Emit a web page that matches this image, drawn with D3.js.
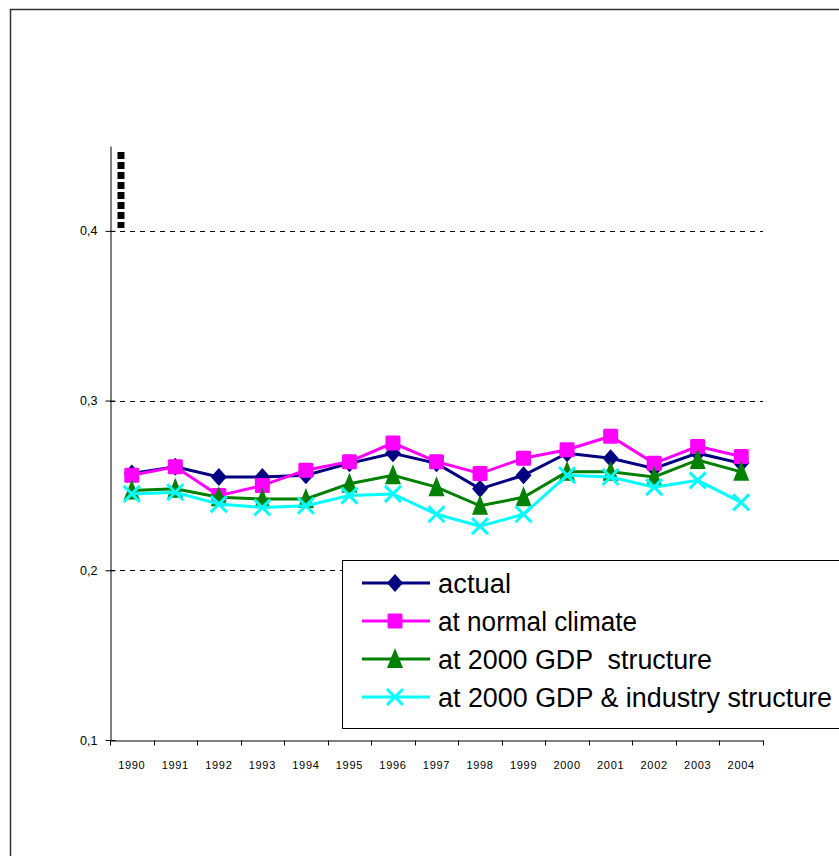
<!DOCTYPE html>
<meta charset="utf-8">
<style>
body { margin: 0; background: #fff; }
svg { display: block; font-family: "Liberation Sans", Arial, sans-serif; }
.axis path, .axis line { stroke: #000; }
.grid { stroke: #000; stroke-dasharray: 5,5; }
.legend text { font-size: 27px; white-space: pre; }
</style>
<svg width="839" height="856"></svg>
<script src="https://cdn.jsdelivr.net/npm/d3@7"></script>
<script>

// data
var years = ["1990","1991","1992","1993","1994","1995","1996","1997","1998","1999","2000","2001","2002","2003","2004"];
var actual =     [0.257, 0.261, 0.255, 0.255, 0.256, 0.263, 0.269, 0.263, 0.248, 0.256, 0.269, 0.266, 0.260, 0.269, 0.263];
var normalClim = [0.256, 0.261, 0.244, 0.250, 0.259, 0.264, 0.275, 0.264, 0.257, 0.266, 0.271, 0.279, 0.263, 0.273, 0.267];
var gdpStruct =  [0.247, 0.248, 0.243, 0.242, 0.242, 0.251, 0.256, 0.249, 0.238, 0.243, 0.258, 0.258, 0.255, 0.265, 0.258];
var gdpInd =     [0.245, 0.246, 0.239, 0.237, 0.238, 0.244, 0.245, 0.233, 0.226, 0.233, 0.256, 0.255, 0.249, 0.253, 0.240];
var yTicks = [0.1, 0.2, 0.3, 0.4];
var gridTicks = [0.2, 0.3, 0.4];

var series = [
  {name: "actual", values: actual, color: "#000080", marker: "diamond"},
  {name: "at normal climate", values: normalClim, color: "#ff00ff", marker: "square"},
  {name: "at 2000 GDP  structure", values: gdpStruct, color: "#008000", marker: "triangle"},
  {name: "at 2000 GDP & industry structure", values: gdpInd, color: "#00ffff", marker: "cross"}
];

var svg = d3.select("svg");

// outer chart frame
svg.append("rect")
    .attr("x", 10.5).attr("y", 9.5)
    .attr("width", 900).attr("height", 900)
    .attr("fill", "none")
    .attr("stroke", "#333")
    .attr("stroke-width", 1.5);

var x = d3.scaleBand().domain(years).range([110, 763]);
var y = d3.scaleLinear().domain([0.1, 0.45]).range([740, 146]);

// gridlines
svg.append("g").selectAll("line")
    .data(gridTicks)
  .enter().append("line")
    .attr("class", "grid")
    .attr("x1", 110).attr("x2", 763)
    .attr("y1", function(d) { return Math.round(y(d)) + 0.5; })
    .attr("y2", function(d) { return Math.round(y(d)) + 0.5; });

// y axis
var yAxis = svg.append("g")
    .attr("class", "axis")
    .attr("transform", "translate(110.5,0)")
    .call(d3.axisLeft(y)
      .tickValues(yTicks)
      .tickSize(5)
      .tickSizeOuter(0)
      .tickPadding(8)
      .tickFormat(function(d) { return d3.format(".1f")(d).replace(".", ","); }));
yAxis.attr("font-family", null);
yAxis.selectAll(".tick line").attr("x1", 5);
yAxis.selectAll(".tick text").style("font-size", "12.5px").attr("fill", "#000");

// x axis (labels in the band centres, ticks at band edges)
var xAxis = svg.append("g")
    .attr("class", "axis")
    .attr("transform", "translate(0,740.5)")
    .call(d3.axisBottom(x).tickSize(0).tickSizeOuter(0));
xAxis.attr("font-family", null);
xAxis.selectAll(".tick text")
    .attr("dy", 0).attr("y", 28)
    .style("font-size", "11px")
    .style("letter-spacing", "0.7px")
    .attr("fill", "#000");
xAxis.selectAll("line.edge")
    .data(d3.range(years.length + 1))
  .enter().append("line")
    .attr("class", "edge")
    .attr("x1", function(i) { return Math.round(x.range()[0] + i * x.step()) + 0.5; })
    .attr("x2", function(i) { return Math.round(x.range()[0] + i * x.step()) + 0.5; })
    .attr("y1", 0).attr("y2", 5)
    .attr("stroke", "#000");

// stray marker artefact near the top of the axis
svg.append("line")
    .attr("x1", 121).attr("x2", 121)
    .attr("y1", 152).attr("y2", 228)
    .attr("stroke", "#000")
    .attr("stroke-width", 7)
    .attr("stroke-dasharray", "7,3");

function drawMarker(g, type, color) {
  if (type == "diamond") {
    g.append("path").attr("d", "M0,-9L8,0L0,9L-8,0Z").attr("fill", color);
  } else if (type == "square") {
    g.append("rect").attr("x", -7.5).attr("y", -7.5).attr("width", 15).attr("height", 15).attr("rx", 1.5).attr("fill", color);
  } else if (type == "triangle") {
    g.append("path").attr("d", "M0,-11L8,9L-8,9Z").attr("fill", color);
  } else {
    g.append("path").attr("d", "M-8,-8L8,8M8,-8L-8,8").attr("stroke", color).attr("stroke-width", 3).attr("fill", "none");
  }
}

var line = d3.line()
    .x(function(d, i) { return x(years[i]) + x.bandwidth() / 2; })
    .y(function(d) { return y(d); });

series.forEach(function(s) {
  var g = svg.append("g");
  g.append("path")
      .datum(s.values)
      .attr("fill", "none")
      .attr("stroke", s.color)
      .attr("stroke-width", 3)
      .attr("d", line);
  g.selectAll("g.pt")
      .data(s.values)
    .enter().append("g")
      .attr("class", "pt")
      .attr("transform", function(d, i) { return "translate(" + (x(years[i]) + x.bandwidth() / 2) + "," + y(d) + ")"; })
      .each(function() { drawMarker(d3.select(this), s.marker, s.color); });
});

// legend
var legend = svg.append("g").attr("class", "legend");
legend.append("rect")
    .attr("x", 342.5).attr("y", 560.5)
    .attr("width", 520).attr("height", 168)
    .attr("fill", "#fff")
    .attr("stroke", "#000");

var rowY = [583, 621, 659, 697];
var textEnd = [511, 637, 712, 832];
series.forEach(function(s, i) {
  var row = legend.append("g");
  row.append("line")
      .attr("x1", 362).attr("x2", 430)
      .attr("y1", rowY[i]).attr("y2", rowY[i])
      .attr("stroke", s.color).attr("stroke-width", 3);
  var m = row.append("g").attr("transform", "translate(395," + rowY[i] + ")");
  drawMarker(m, s.marker, s.color);
  row.append("text")
      .attr("x", 438)
      .attr("y", rowY[i] + 10)
      .attr("textLength", textEnd[i] - 438)
      .attr("lengthAdjust", "spacingAndGlyphs")
      .text(s.name);
});

</script>
